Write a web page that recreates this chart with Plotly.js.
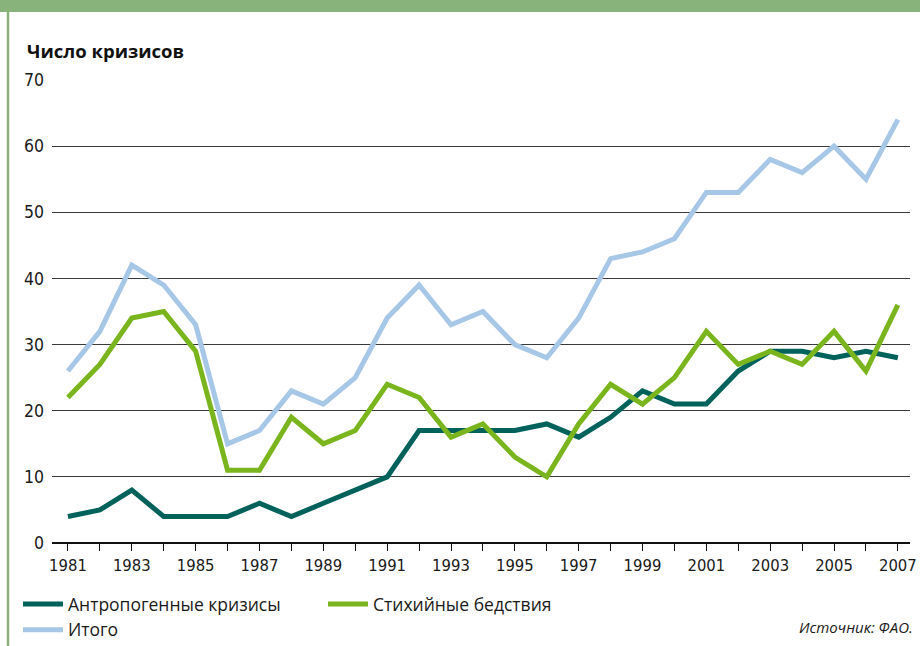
<!DOCTYPE html>
<html>
<head>
<meta charset="utf-8">
<script src="https://cdn.plot.ly/plotly-3.0.1.min.js"></script>
<style>
  html, body { margin: 0; padding: 0; background: #fff; }
  #chart { width: 920px; height: 646px; }
</style>
</head>
<body>
<div id="chart"></div>
<script>
// Data
const years = [1981, 1982, 1983, 1984, 1985, 1986, 1987, 1988, 1989, 1990, 1991, 1992, 1993, 1994,
               1995, 1996, 1997, 1998, 1999, 2000, 2001, 2002, 2003, 2004, 2005, 2006, 2007];
const manMade = [4, 5, 8, 4, 4, 4, 6, 4, 6, 8, 10, 17, 17, 17, 17, 18, 16, 19, 23, 21, 21, 26, 29, 29, 28, 29, 28];
const natural = [22, 27, 34, 35, 29, 11, 11, 19, 15, 17, 24, 22, 16, 18, 13, 10, 18, 24, 21, 25, 32, 27, 29, 27, 32, 26, 36];
const total = [26, 32, 42, 39, 33, 15, 17, 23, 21, 25, 34, 39, 33, 35, 30, 28, 34, 43, 44, 46, 53, 53, 58, 56, 60, 55, 64];

const seriesNames = ['Антропогенные кризисы', 'Стихийные бедствия', 'Итого'];
const seriesColors = ['#00625a', '#7ab51d', '#a7c7e7'];

const W = 920, H = 646;
const margin = { l: 52, r: 10, t: 80, b: 103 };
const plotW = W - margin.l - margin.r;
const plotH = H - margin.t - margin.b;
// helpers to place decorations in paper coords from pixel positions
const px = x => (x - margin.l) / plotW;
const py = y => (H - margin.b - y) / plotH;

const tickFont = 'DejaVu Sans Condensed, Liberation Sans Narrow, sans-serif';

const traces = [manMade, natural, total].map((vals, i) => ({
    x: years,
    y: vals,
    name: seriesNames[i],
    type: 'scatter',
    mode: 'lines',
    line: { color: seriesColors[i], width: 5 }
}));

const layout = {
    width: W,
    height: H,
    margin: margin,
    paper_bgcolor: '#fff',
    plot_bgcolor: '#fff',
    font: { family: 'Open Sans, sans-serif', color: '#1a1a1a' },
    title: {
        text: '<b>Число кризисов</b>',
        font: { family: 'Open Sans, sans-serif', size: 18.5, color: '#111' },
        xref: 'container', yref: 'container',
        x: 27 / W, xanchor: 'left',
        y: 1 - 52 / H, yanchor: 'middle'
    },
    xaxis: {
        range: [1980.5, 2007.38],
        tickmode: 'linear',
        tick0: 1981,
        dtick: 2,
        ticks: 'outside',
        ticklen: 7,
        tickcolor: '#111',
        tickwidth: 1,
        minor: { dtick: 1, tick0: 1981, ticks: 'outside', ticklen: 7, tickcolor: '#111', tickwidth: 1, showgrid: false },
        showgrid: false,
        zeroline: false,
        showline: false,
        tickfont: { family: tickFont, size: 16.5, color: '#1a1a1a' }
    },
    yaxis: {
        range: [0, 70],
        tickvals: [0, 10, 20, 30, 40, 50, 60, 70],
        showgrid: true,
        gridcolor: '#3a3a3a',
        gridwidth: 1,
        zeroline: true,
        zerolinecolor: '#111',
        zerolinewidth: 2,
        ticks: '',
        ticklabelstandoff: 7,
        tickfont: { family: tickFont, size: 17.5, color: '#1a1a1a' }
    },
    showlegend: true,
    legend: {
        orientation: 'h',
        xref: 'container', yref: 'container',
        x: 18 / W, xanchor: 'left',
        y: 1 - 586 / H, yanchor: 'top',
        entrywidth: 250,
        entrywidthmode: 'pixels',
        tracegroupgap: 0,
        itemwidth: 40,
        font: { family: 'Open Sans, sans-serif', size: 17.5, color: '#1a1a1a' },
        bgcolor: 'rgba(0,0,0,0)'
    },
    annotations: [{
        text: '<i>Источник: ФАО.</i>',
        xref: 'paper', yref: 'paper',
        x: px(915), xanchor: 'right',
        y: py(627), yanchor: 'middle',
        showarrow: false,
        font: { family: 'Open Sans, sans-serif', size: 15, color: '#1a1a1a' }
    }],
    shapes: [
        // green frame: top band and left rule
        { type: 'rect', xref: 'paper', yref: 'paper', x0: px(0), x1: px(W), y0: py(12), y1: py(0),
          fillcolor: '#88b47b', line: { width: 0 } },
        { type: 'line', xref: 'paper', yref: 'paper', x0: px(8), x1: px(8), y0: py(12), y1: py(H),
          line: { color: '#88b47b', width: 2.5 } }
    ]
};

Plotly.newPlot('chart', traces, layout, { displayModeBar: false, staticPlot: true });
</script>
</body>
</html>
